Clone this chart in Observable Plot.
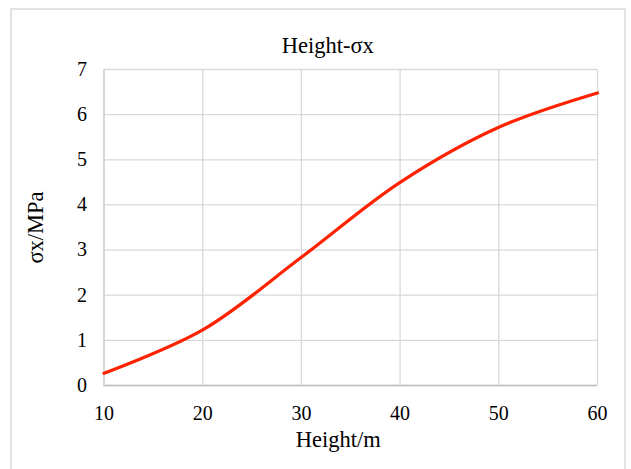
<!DOCTYPE html>
<html>
<head>
<meta charset="utf-8">
<script src="https://cdn.jsdelivr.net/npm/d3@7"></script>
<script src="https://cdn.jsdelivr.net/npm/@observablehq/plot@0.6"></script>
<style>
  html, body { margin: 0; padding: 0; background: #fff; }
  #wrap { position: relative; width: 631px; height: 469px; overflow: hidden; }
  #border { position: absolute; left: 10px; top: 8px; width: 616px; height: 480px;
            border: 2px solid #e2e2e2; box-sizing: border-box; }
  #chart { position: absolute; left: 0; top: 0; }
</style>
</head>
<body>
<div id="wrap"><div id="border"></div><div id="chart"></div></div>
<script>
// Height (m) and horizontal stress σx (MPa), drawn as a smoothed line
const heights = [10, 20, 30, 40, 50, 60];
const sigmaX  = [0.27, 1.23, 2.84, 4.50, 5.72, 6.48];
const xTicks = [10, 20, 30, 40, 50, 60];
const yTicks = [0, 1, 2, 3, 4, 5, 6, 7];
const titleText = "Height-σx";
const xLabel = "Height/m";
const yLabel = "σx/MPa";

const data = heights.map((h, i) => ({height: h, sigma: sigmaX[i]}));
const font = "'Liberation Serif', 'Times New Roman', serif";

const chart = Plot.plot({
  width: 631,
  height: 469,
  marginLeft: 103.5,
  marginRight: 34,
  marginTop: 69,
  marginBottom: 84,
  style: {fontFamily: font, fontSize: "20px", color: "#000", background: "transparent"},
  x: {domain: [10, 60]},
  y: {domain: [0, 7]},
  marks: [
    Plot.gridY(yTicks, {stroke: "#d9d9d9", strokeOpacity: 1, strokeWidth: 1.3}),
    Plot.gridX(xTicks, {stroke: "#d9d9d9", strokeOpacity: 1, strokeWidth: 1.3}),
    Plot.ruleY([0], {stroke: "#bfbfbf", strokeWidth: 1.3}),
    Plot.ruleX([10], {stroke: "#cfcfcf", strokeWidth: 1.3}),
    Plot.line(data, {x: "height", y: "sigma", curve: "catmull-rom",
      stroke: "#ff2200", strokeWidth: 3.2, strokeLinecap: "round"}),
    Plot.axisX(xTicks, {tickSize: 0, tickPadding: 20, label: null, fill: "#000", fontSize: 20}),
    Plot.axisY(yTicks, {tickSize: 0, tickPadding: 17, label: null, fill: "#000", fontSize: 20}),
    Plot.text([titleText], {frameAnchor: "top", dx: -23, dy: -32.5, text: d => d,
      fontSize: 22.5, fill: "#000"}),
    Plot.text([xLabel], {frameAnchor: "bottom", dx: -12.5, dy: 61, text: d => d,
      fontSize: 22.5, fill: "#000"}),
    Plot.text([yLabel], {frameAnchor: "left", dx: -68.5, dy: 0, rotate: -90, text: d => d,
      textAnchor: "middle", fontSize: 22.5, fill: "#000"})
  ]
});
document.getElementById("chart").appendChild(chart);
</script>
</body>
</html>
